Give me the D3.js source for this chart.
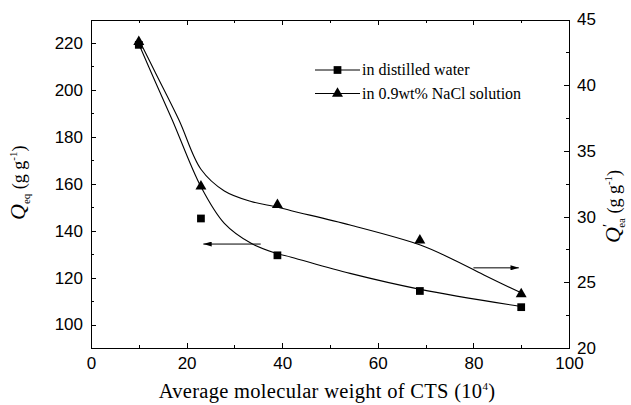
<!DOCTYPE html>
<meta charset="utf-8">
<style>
body { margin: 0; background: #fff; }
.axis path, .axis line { fill: none; stroke: #000; shape-rendering: crispEdges; }
.axis text { font: 17px "Liberation Sans", Arial, sans-serif; fill: #000; }
.serif { font-family: "Liberation Serif", "Times New Roman", serif; fill: #000; }
</style>
<body>
<script src="https://d3js.org/d3.v7.min.js"></script>
<script>

// measured points
var mw = [10, 23, 39, 68.8, 90];
var qWater = [219.2, 145.2, 129.5, 114.3, 107.4];
var qNaCl = [43.3, 32.3, 30.9, 28.2, 24.1];

// fitted curves
var fitXWater = [10.1, 13.4, 17, 23, 27.9, 33.5, 38.7, 41.9, 54.2, 68.9, 90.2];
var fitWater = [219.1, 203.7, 187.2, 158.7, 143.1, 134.6, 130.4, 128.7, 121.8, 115.0, 107.6];
var fitXNaCl = [10.4, 13.4, 18.4, 23, 27.9, 33.5, 38.7, 41.9, 54.2, 68.9, 75.2, 82.2, 90.2];
var fitNaCl = [43.2, 41.0, 37.35, 33.6, 31.95, 31.15, 30.75, 30.45, 29.36, 27.84, 26.83, 25.56, 24.16];

// arrows pointing to their axis: [x0, x1, y]
var arrowLeft = [35.5, 23.5, 134.3];
var arrowRight = [80, 89.5, 26.1];

var xTicks = [0, 20, 40, 60, 80, 100];
var yTicks = [100, 120, 140, 160, 180, 200, 220];
var y2Ticks = [20, 25, 30, 35, 40, 45];

var margin = {top: 19.5, right: 62, bottom: 57, left: 91},
    width = 631 - margin.left - margin.right,
    height = 405 - margin.top - margin.bottom;

var svg = d3.select("body").append("svg")
    .attr("width", 631)
    .attr("height", 405)
  .append("g")
    .attr("transform", "translate(" + margin.left + "," + margin.top + ")");

var x = d3.scaleLinear().domain([0, 100]).range([0, width]);
var y = d3.scaleLinear().domain([90, 230]).range([height, 0]);
var y2 = d3.scaleLinear().domain([20, 45]).range([height, 0]);

function minor(lo, hi, step) {
  return d3.range(lo, hi + 0.001, step);
}

// minor ticks
svg.append("g").attr("class", "axis").attr("transform", "translate(0," + height + ")")
    .call(d3.axisBottom(x).tickValues(minor(10, 90, 20)).tickSize(-3).tickFormat(""));
svg.append("g").attr("class", "axis")
    .call(d3.axisTop(x).tickValues(minor(10, 90, 20)).tickSize(-3).tickFormat(""));
svg.append("g").attr("class", "axis")
    .call(d3.axisLeft(y).tickValues(minor(90, 230, 20)).tickSize(-3).tickFormat(""));
svg.append("g").attr("class", "axis").attr("transform", "translate(" + width + ",0)")
    .call(d3.axisRight(y2).tickValues(minor(22.5, 42.5, 5)).tickSize(-3).tickFormat(""));

// major axes
svg.append("g").attr("class", "axis").attr("transform", "translate(0," + height + ")")
    .call(d3.axisBottom(x).tickValues(xTicks).tickSize(-5).tickSizeOuter(0).tickPadding(9));
svg.append("g").attr("class", "axis")
    .call(d3.axisTop(x).tickValues(xTicks).tickSize(-5).tickSizeOuter(0).tickFormat(""));
svg.append("g").attr("class", "axis")
    .call(d3.axisLeft(y).tickValues(yTicks).tickSize(-5).tickSizeOuter(0).tickPadding(8));
svg.append("g").attr("class", "axis").attr("transform", "translate(" + width + ",0)")
    .call(d3.axisRight(y2).tickValues(y2Ticks).tickSize(-5).tickSizeOuter(0).tickPadding(8));

// fitted curves
var lineW = d3.line().curve(d3.curveCatmullRom)
    .x(function(d, i) { return x(fitXWater[i]); })
    .y(function(d) { return y(d); });
var lineN = d3.line().curve(d3.curveCatmullRom)
    .x(function(d, i) { return x(fitXNaCl[i]); })
    .y(function(d) { return y2(d); });

svg.append("path").datum(fitWater).attr("d", lineW)
    .attr("fill", "none").attr("stroke", "#000").attr("stroke-width", 1.1);
svg.append("path").datum(fitNaCl).attr("d", lineN)
    .attr("fill", "none").attr("stroke", "#000").attr("stroke-width", 1.1);

var square = d3.symbol().type(d3.symbolSquare).size(60);
var triangle = d3.symbol().type(d3.symbolTriangle).size(52);

svg.selectAll(".sq").data(qWater).enter().append("path")
    .attr("class", "sq")
    .attr("d", square)
    .attr("transform", function(d, i) { return "translate(" + x(mw[i]) + "," + y(d) + ")"; });

svg.selectAll(".tri").data(qNaCl).enter().append("path")
    .attr("class", "tri")
    .attr("d", triangle)
    .attr("transform", function(d, i) { return "translate(" + x(mw[i]) + "," + y2(d) + ")"; });

// arrows
svg.append("defs").append("marker")
    .attr("id", "head")
    .attr("viewBox", "0 0 10 6")
    .attr("refX", 10).attr("refY", 3)
    .attr("markerWidth", 9).attr("markerHeight", 5)
    .attr("markerUnits", "userSpaceOnUse")
    .attr("orient", "auto")
  .append("path").attr("d", "M0,0L10,3L0,6Z").attr("fill", "#000");

svg.append("line")
    .attr("x1", x(arrowLeft[0])).attr("x2", x(arrowLeft[1]))
    .attr("y1", y(arrowLeft[2])).attr("y2", y(arrowLeft[2]))
    .attr("stroke", "#000").attr("marker-end", "url(#head)");
svg.append("line")
    .attr("x1", x(arrowRight[0])).attr("x2", x(arrowRight[1]))
    .attr("y1", y2(arrowRight[2])).attr("y2", y2(arrowRight[2]))
    .attr("stroke", "#000").attr("marker-end", "url(#head)");

// legend
var legend = svg.selectAll(".legend")
    .data([{label: "in distilled water", sym: square},
           {label: "in 0.9wt% NaCl solution", sym: triangle}])
  .enter().append("g")
    .attr("class", "legend")
    .attr("transform", function(d, i) { return "translate(224," + (50.5 + i * 23.5) + ")"; });

legend.append("line").attr("x1", 0).attr("x2", 45).attr("stroke", "#000");
legend.append("path").attr("d", function(d) { return d.sym(); })
    .attr("transform", "translate(22.5,0)");
legend.append("text").attr("class", "serif")
    .attr("x", 47).attr("y", 5)
    .style("font-size", "16px")
    .text(function(d) { return d.label; });

// axis titles
svg.append("text").attr("class", "serif")
    .attr("x", width / 2 - 3).attr("y", height + 50)
    .attr("text-anchor", "middle")
    .style("font-size", "20.5px")
    .style("letter-spacing", "0.3px")
    .html('Average molecular weight of CTS (10<tspan dy="-8" font-size="11">4</tspan><tspan dy="8">)</tspan>');

svg.append("text").attr("class", "serif")
    .attr("transform", "translate(" + (-66) + "," + (200.5) + ") rotate(-90)")
    .style("font-size", "18px")
    .html('<tspan font-style="italic" font-size="22">Q</tspan><tspan font-size="11" dy="5">eq</tspan>' +
          '<tspan dy="-5"> (g g</tspan><tspan font-size="11" dy="-8">-1</tspan><tspan dy="8">)</tspan>');

svg.append("text").attr("class", "serif")
    .attr("transform", "translate(" + (width + 51) + "," + (223.5) + ") rotate(-90)")
    .style("font-size", "18px")
    .html('<tspan font-style="italic" font-size="22">Q</tspan><tspan font-size="15" dy="-7">\u2032</tspan>' +
          '<tspan font-size="11" dx="-4" dy="12">ea</tspan>' +
          '<tspan dy="-5"> (g g</tspan><tspan font-size="11" dy="-8">-1</tspan><tspan dy="8">)</tspan>');

</script>
